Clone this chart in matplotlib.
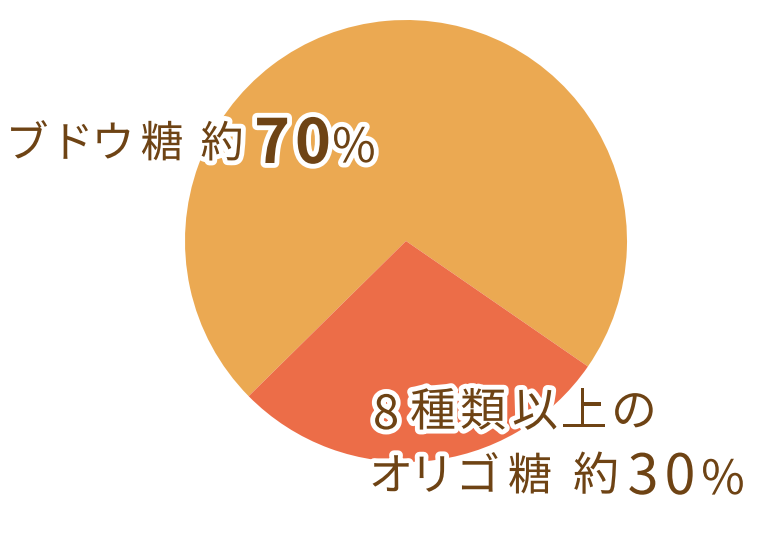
import matplotlib.pyplot as plt
import matplotlib.patheffects as pe

# Sugar composition (share of the pie as drawn, labelled "about 70% / 30%")
labels = ['ブドウ糖', '8種類以上のオリゴ糖']
values = [72, 28]
colors = ['#EBA952', '#EC6D48']

plt.rcParams['font.family'] = ['Noto Sans CJK JP', 'DejaVu Sans']

W, H = 776, 553
fig = plt.figure(figsize=(W / 100, H / 100), dpi=100)

# pie: centre ~ (406, 241) px, radius ~ 221 px
cx, cy, r = 406, 241, 221
ax = fig.add_axes([(cx - r) / W, (H - cy - r) / H, 2 * r / W, 2 * r / H])
ax.pie(values, colors=colors, startangle=325.4, counterclock=True,
       wedgeprops=dict(linewidth=0))
ax.set_xlim(-1, 1)
ax.set_ylim(-1, 1)
ax.set_aspect('equal')
ax.axis('off')

txt_color = '#6E4314'
stroke = [pe.withStroke(linewidth=7, foreground='white')]


def put(chars, xs, y, size, weight='normal'):
    # one glyph per centre x (pixels from left), y = baseline in pixels from top
    for ch, x in zip(chars, xs):
        fig.text(x / W, (H - y) / H, ch, fontsize=size, color=txt_color,
                 fontweight=weight, ha='center', va='baseline',
                 path_effects=stroke)


# glucose label: ブドウ糖 約70%
put('ブドウ糖', [27, 72, 113, 162], 157, 31)
put('約', [222], 157, 31)
put('70', [272, 313], 163, 44, 'bold')
put('%', [354], 162, 34)

# oligosaccharide label: 8種類以上の / オリゴ糖 約30%
put('8', [386], 429, 34)
put('種類以上の', [433, 483, 535, 584, 634], 426, 33)
put('オリゴ糖', [391, 432, 478, 530], 490, 32)
put('約', [596], 490, 33)
put('30', [643, 680], 494, 40)
put('%', [723], 494, 34)

fig.savefig('out.png', dpi=100)
